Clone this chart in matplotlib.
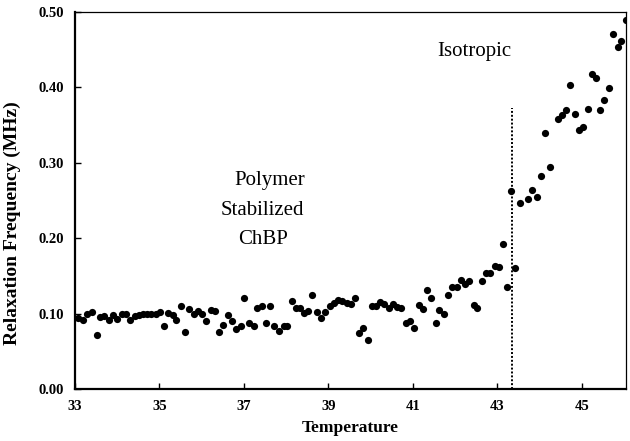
import matplotlib
matplotlib.use("Agg")
import matplotlib.pyplot as plt

# relaxation frequency vs temperature
temperature = [
    33.08, 33.18, 33.29, 33.40, 33.51, 33.59, 33.69, 33.81, 33.89, 34.00,
    34.11, 34.21, 34.30, 34.41, 34.51, 34.60, 34.70, 34.80, 34.91, 35.01,
    35.10, 35.20, 35.31, 35.40, 35.51, 35.61, 35.71, 35.81, 35.91, 36.02,
    36.11, 36.22, 36.31, 36.41, 36.51, 36.62, 36.72, 36.82, 36.93, 37.01,
    37.12, 37.23, 37.31, 37.43, 37.53, 37.62, 37.72, 37.83, 37.94, 38.03,
    38.13, 38.23, 38.33, 38.43, 38.53, 38.62, 38.73, 38.83, 38.93, 39.03,
    39.13, 39.23, 39.33, 39.44, 39.54, 39.64, 39.73, 39.83, 39.93, 40.03,
    40.13, 40.23, 40.33, 40.43, 40.53, 40.63, 40.73, 40.83, 40.93, 41.03,
    41.14, 41.24, 41.33, 41.44, 41.54, 41.62, 41.74, 41.84, 41.93, 42.04,
    42.14, 42.23, 42.34, 42.44, 42.53, 42.64, 42.73, 42.83, 42.94, 43.04,
    43.13, 43.24, 43.33, 43.43, 43.53, 43.73, 43.83, 43.93, 44.04, 44.13,
    44.24, 44.43, 44.53, 44.64, 44.73, 44.84, 44.94, 45.04, 45.14, 45.24,
    45.34, 45.44, 45.54, 45.64, 45.75, 45.85, 45.93, 46.04,
]
frequency = [
    0.094, 0.092, 0.099, 0.102, 0.071, 0.095, 0.097, 0.092, 0.098, 0.093,
    0.100, 0.100, 0.091, 0.097, 0.098, 0.100, 0.100, 0.100, 0.100, 0.102,
    0.083, 0.101, 0.098, 0.091, 0.110, 0.075, 0.106, 0.100, 0.103, 0.099,
    0.090, 0.105, 0.104, 0.075, 0.085, 0.098, 0.090, 0.079, 0.083, 0.121,
    0.088, 0.083, 0.108, 0.110, 0.088, 0.110, 0.083, 0.077, 0.083, 0.084,
    0.116, 0.108, 0.108, 0.101, 0.103, 0.124, 0.102, 0.094, 0.102, 0.110,
    0.114, 0.118, 0.117, 0.114, 0.113, 0.120, 0.074, 0.081, 0.065, 0.110,
    0.110, 0.115, 0.113, 0.107, 0.113, 0.109, 0.108, 0.088, 0.090, 0.081,
    0.111, 0.106, 0.131, 0.120, 0.088, 0.105, 0.099, 0.124, 0.135, 0.135,
    0.144, 0.139, 0.143, 0.112, 0.108, 0.143, 0.154, 0.154, 0.163, 0.162,
    0.192, 0.135, 0.262, 0.161, 0.246, 0.252, 0.264, 0.254, 0.282, 0.339,
    0.294, 0.358, 0.363, 0.370, 0.403, 0.364, 0.343, 0.347, 0.371, 0.418,
    0.412, 0.370, 0.383, 0.399, 0.471, 0.454, 0.461, 0.489,
]

transition_temp = 43.36
transition_top = 0.372

x_ticks = [33, 35, 37, 39, 41, 43, 45]
y_ticks = [0.0, 0.1, 0.2, 0.3, 0.4, 0.5]

plt.rcParams['font.family'] = ['Liberation Serif', 'DejaVu Serif']

fig = plt.figure(figsize=(6.3, 4.41), dpi=100)
ax = fig.add_axes([0.119, 0.118, 0.8747, 0.855])

ax.plot(temperature, frequency, 'o', color='black', ms=5.2, mec='none')
ax.plot([transition_temp, transition_temp], [0, transition_top],
        color='black', lw=1.4, linestyle=(0, (1, 1)))

ax.set_xlim(33, 46.05)
ax.set_ylim(0, 0.5)
ax.set_xticks(x_ticks)
ax.set_yticks(y_ticks)
ax.set_yticklabels(['%.2f' % v for v in y_ticks])
ax.tick_params(direction='in', length=4, width=1, labelsize=10.5, pad=8)
for lbl in ax.get_xticklabels() + ax.get_yticklabels():
    lbl.set_fontweight('bold')

for side in ['left', 'bottom']:
    ax.spines[side].set_linewidth(1.6)
for side in ['top', 'right']:
    ax.spines[side].set_linewidth(0.9)

ax.set_xlabel('Temperature', fontsize=12.5, fontweight='bold')
ax.xaxis.set_label_coords(0.5, -0.082)
ax.set_ylabel('Relaxation Frequency (MHz)', fontsize=14, fontweight='bold')
ax.yaxis.set_label_coords(-0.098, 0.44)

ax.text(41.58, 0.442, 'Isotropic', fontsize=15)
ax.text(36.77, 0.271, 'Polymer', fontsize=15)
ax.text(36.44, 0.231, 'Stabilized', fontsize=15)
ax.text(36.86, 0.192, 'ChBP', fontsize=15)

fig.savefig('out.png', dpi=100)
